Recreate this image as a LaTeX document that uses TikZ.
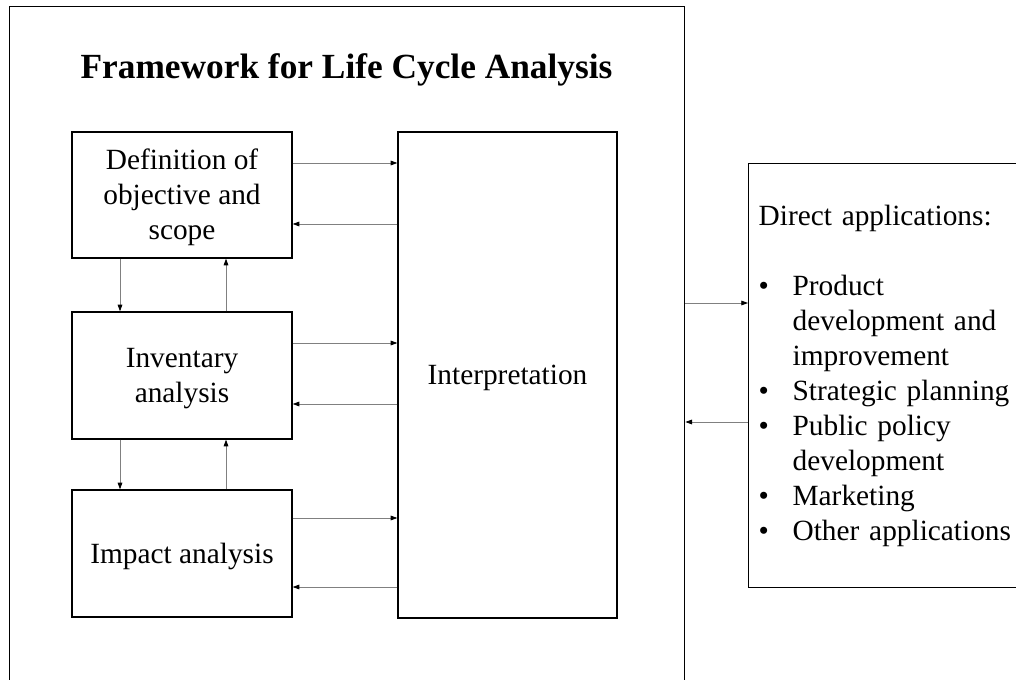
\documentclass[tikz,border=0pt]{standalone}
\usepackage{fontspec}
\setmainfont{Liberation Serif}
\usetikzlibrary{arrows.meta,positioning}
\newcommand{\bodyfont}{\fontsize{22}{26.25}\selectfont}
\newcommand{\boxtext}[1]{\raisebox{-2.25pt}[\height][\depth]{\begin{tabular}{@{}c@{}}#1\end{tabular}}}
\tikzset{
    box/.style={draw, line width=1pt, align=center, font=\bodyfont, inner sep=0pt},
    flow/.style={draw=gray, line width=0.6pt, -{Triangle[length=5pt,width=3.5pt,color=black]}}
}

\begin{document}
\begin{tikzpicture}[x=0.75pt, y=-0.75pt]
    \clip (0,0) rectangle (1016,680);
    % Frame and title
    \node[draw, line width=1pt, anchor=north west, minimum width=506.25pt, minimum height=525pt, inner sep=0pt] (frame) at (9,6) {};
    \node[anchor=base, font=\fontsize{26.5}{30}\selectfont\bfseries] (title) at (346.5,79) {Framework for Life Cycle Analysis};

    % Stages
    \node[box, minimum width=165pt, minimum height=94.5pt] (def) at (182,195) {\boxtext{Definition of\\objective and\\scope}};
    \node[box, minimum width=165pt, minimum height=95.25pt] (inv) at (182,375.5) {\boxtext{Inventary\\analysis}};
    \node[box, minimum width=165pt, minimum height=95.25pt] (imp) at (182,553.5) {\boxtext{Impact analysis}};
    \node[box, minimum width=164.25pt, minimum height=364.5pt] (interp) at (507.5,375) {\boxtext{Interpretation}};

    % Applications
    \node[draw, line width=1pt, anchor=north west, font=\bodyfont, align=left, minimum height=318pt, text width=195pt, inner xsep=7.5pt, inner ysep=0pt] (apps) at (748,163) {%
        \begin{tabular}{@{}p{25.5pt}@{}l@{}}
        \multicolumn{2}{@{}l@{}}{Direct applications:}\\
        \\
        \textbullet & Product\\
         & development and\\
         & improvement\\
        \textbullet & Strategic planning\\
        \textbullet & Public policy\\
         & development\\
        \textbullet & Marketing\\
        \textbullet & Other applications
        \end{tabular}};

    % edges
    \draw[flow] (def.east |- 0,163) -- (interp.west |- 0,163);
    \draw[flow] (interp.west |- 0,224) -- (def.east |- 0,224);
    \draw[flow] (inv.east |- 0,343) -- (interp.west |- 0,343);
    \draw[flow] (interp.west |- 0,404) -- (inv.east |- 0,404);
    \draw[flow] (imp.east |- 0,518) -- (interp.west |- 0,518);
    \draw[flow] (interp.west |- 0,587) -- (imp.east |- 0,587);
    \draw[flow] (def.south -| 120,0) -- (inv.north -| 120,0);
    \draw[flow] (inv.north -| 226,0) -- (def.south -| 226,0);
    \draw[flow] (inv.south -| 120,0) -- (imp.north -| 120,0);
    \draw[flow] (imp.north -| 226,0) -- (inv.south -| 226,0);
    \draw[flow] (frame.east |- 0,303) -- (apps.west |- 0,303);
    \draw[flow] (apps.west |- 0,422) -- (frame.east |- 0,422);
\end{tikzpicture}
\end{document}
